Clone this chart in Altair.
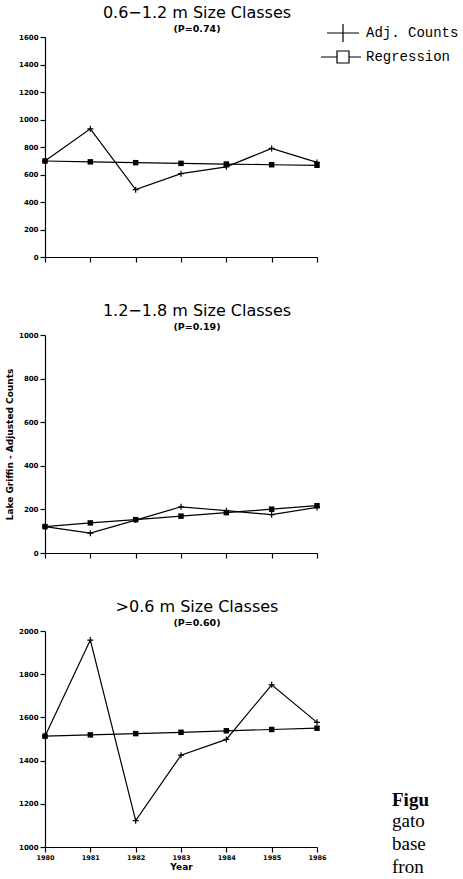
import altair as alt
import pandas as pd

# ---------------- data ----------------
years = [1980, 1981, 1982, 1983, 1984, 1985, 1986]
series_names = ["Adj. Counts", "Regression"]

adj_06_12 = [698, 932, 490, 606, 656, 790, 688]
reg_06_12 = [698, 692, 686, 681, 676, 671, 667]

adj_12_18 = [121, 91, 151, 212, 194, 176, 209]
reg_12_18 = [121, 138, 153, 169, 185, 201, 217]

adj_gt06 = [1513, 1958, 1122, 1425, 1498, 1751, 1577]
reg_gt06 = [1513, 1519, 1525, 1531, 1538, 1544, 1550]

titles = ["0.6\u22121.2 m Size Classes", "1.2\u22121.8 m Size Classes", ">0.6 m Size Classes"]
subtitles = ["(P=0.74)", "(P=0.19)", "(P=0.60)"]
y_domains = [[0, 1600], [0, 1000], [1000, 2000]]
y_ticks = [list(range(0, 1601, 200)), list(range(0, 1001, 200)), list(range(1000, 2001, 200))]
y_title = "Lake Griffin - Adjusted Counts"
x_title = "Year"
caption_bold = ["Figu"]
caption_lines = ["gato", "base", "fron"]

# marker / legend symbol paths (legend symbols: unit = 10 px at symbolSize 400)
plus_path = "M-1,0H1M0,-1V1"
legend_adj_path = "M-0.4,0H2.8M1.2,-0.9V0.9"
legend_reg_path = "M-1,0H0.6M1.8,0H3M0.6,-0.6H1.8V0.6H0.6Z"

W = 272
heights = [220, 218, 216]


def panel(i, adj, reg, show_x=False, ytitle=None, legend=False, caption=False):
    df = pd.DataFrame({
        "year": years + years,
        "value": adj + reg,
        "series": [series_names[0]] * len(years) + [series_names[1]] * len(years),
    })
    base = alt.Chart(df)

    xaxis_kw = dict(values=years, format="d", labels=show_x, labelFlush=False,
                    labelOverlap=False, labelFontSize=6.5, labelPadding=2)
    if show_x:
        xaxis_kw["title"] = x_title
        xaxis_kw["titlePadding"] = 2
    else:
        xaxis_kw["title"] = None
    x = alt.X("year:Q", scale=alt.Scale(domain=[1980, 1986], nice=False, zero=False),
              axis=alt.Axis(**xaxis_kw))

    yaxis_kw = dict(values=y_ticks[i], format="d", labelFlush=False, labelOverlap=False)
    if ytitle:
        yaxis_kw["title"] = ytitle
        yaxis_kw["titlePadding"] = 4
    else:
        yaxis_kw["title"] = None
    y = alt.Y("value:Q", scale=alt.Scale(domain=y_domains[i], nice=False, zero=False),
              axis=alt.Axis(**yaxis_kw))

    lines = base.mark_line(color="black", strokeWidth=1.2).encode(
        x=x, y=y, detail="series:N")
    pts_adj = base.transform_filter(alt.datum.series == series_names[0]).mark_point(
        shape=plus_path, size=36, filled=False, color="black", strokeWidth=1.2, opacity=1
    ).encode(x=x, y=y)
    pts_reg = base.transform_filter(alt.datum.series == series_names[1]).mark_square(
        size=30, filled=True, color="black", opacity=1
    ).encode(x=x, y=y)

    layers = [lines, pts_adj, pts_reg]

    if legend:
        leg = base.mark_point(opacity=0, filled=False, color="black").encode(
            x=x, y=y,
            shape=alt.Shape("series:N",
                            scale=alt.Scale(domain=series_names,
                                            range=[legend_adj_path, legend_reg_path]),
                            legend=alt.Legend(title=None, orient="none", legendX=275, legendY=-15,
                                              symbolSize=400, symbolStrokeWidth=1.2,
                                              symbolStrokeColor="black", symbolFillColor="white",
                                              symbolOpacity=1, labelFont="Liberation Mono",
                                              labelFontSize=14, labelColor="black",
                                              labelOffset=24, rowPadding=1)))
        layers.append(leg)

    if caption:
        cap_df = pd.DataFrame({"k": [0]})
        cap1 = alt.Chart(cap_df).mark_text(
            text=caption_bold, align="left", baseline="middle", font="Liberation Serif",
            fontSize=19, fontWeight="bold", color="black"
        ).encode(x=alt.value(347), y=alt.value(169))
        cap2 = alt.Chart(cap_df).mark_text(
            text=caption_lines, align="left", baseline="middle", font="Liberation Serif",
            fontSize=19, lineHeight=23, color="black"
        ).encode(x=alt.value(347), y=alt.value(190))
        layers += [cap1, cap2]

    return alt.layer(*layers).properties(
        width=W, height=heights[i],
        title=alt.TitleParams(text=titles[i], subtitle=subtitles[i], anchor="middle",
                              dx=16, offset=0, subtitlePadding=3,
                              font="DejaVu Sans", fontSize=16, fontWeight="normal",
                              color="black", subtitleFont="DejaVu Sans",
                              subtitleFontSize=9.5, subtitleFontWeight="bold",
                              subtitleColor="black"))


p1 = panel(0, adj_06_12, reg_06_12, legend=True)
p2 = panel(1, adj_12_18, reg_12_18, ytitle=y_title)
p3 = panel(2, adj_gt06, reg_gt06, show_x=True, caption=True)

chart = alt.vconcat(p1, p2, p3, spacing=39).properties(
    padding={"left": 5, "top": 4, "right": 0, "bottom": 0},
    background="white",
).configure_view(stroke=None).configure_axis(
    domainColor="black", domainWidth=1.2, tickColor="black", tickWidth=1.2, tickSize=5,
    labelFont="DejaVu Sans", labelFontWeight="bold", labelFontSize=7, labelColor="black",
    labelPadding=2, grid=False, titleFont="DejaVu Sans", titleFontWeight="bold",
    titleFontSize=9, titleColor="black"
)

chart.save("out.html", embed_options={"renderer": "svg", "actions": False})
